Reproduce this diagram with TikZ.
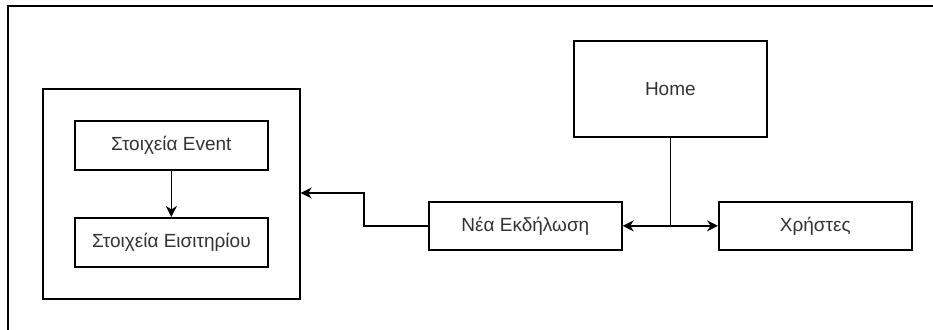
\documentclass[tikz,border=0pt]{standalone}
\usepackage{fontspec}
\setmainfont{Liberation Sans}
\usetikzlibrary{arrows.meta}
\begin{document}
\begin{tikzpicture}[x=1pt,y=-1pt,
  box/.style={draw=black,line width=1.7pt,fill=white,inner sep=0pt,
    font=\fontsize{19}{22}\selectfont,text=black!80},
  link/.style={draw=black,line width=1.7pt},
  tip/.style={-{Stealth[length=11pt,width=11pt,inset=3.5pt]}}]
\useasboundingbox (0,0) rectangle (933,329);
% page frame: only the left and top edges fall inside the picture
\draw[line width=2.6pt] (8,340) -- (8,6) -- (945,6);
% container for the event screens
\node[box,minimum width=257pt,minimum height=210pt,anchor=north west] (group) at (42,88) {};
\node[box,minimum width=193pt,minimum height=49pt,anchor=north west] (event) at (74,120) {Στοιχεία Event};
\node[box,minimum width=193pt,minimum height=49pt,anchor=north west] (ticket) at (74,217) {Στοιχεία Εισιτηρίου};
% top-level screens
\node[box,minimum width=193pt,minimum height=96pt,anchor=north west] (home) at (573,40) {Home};
\node[box,minimum width=193pt,minimum height=48pt,anchor=north west] (newev) at (428,201) {Νέα Εκδήλωση};
\node[box,minimum width=193pt,minimum height=48pt,anchor=north west] (users) at (718,201) {Χρήστες};
% connectors
\coordinate (split) at (home.south |- newev.east);
\draw[link,tip] (event) -- (ticket);
\draw[link] (home) -- (split);
\draw[link,tip] (split) -- (newev.east);
\draw[link,tip] (split) -- (users.west);
\draw[link,tip] (newev.west) -| (364,193) -- (group.east |- 0,193);
\end{tikzpicture}
\end{document}
